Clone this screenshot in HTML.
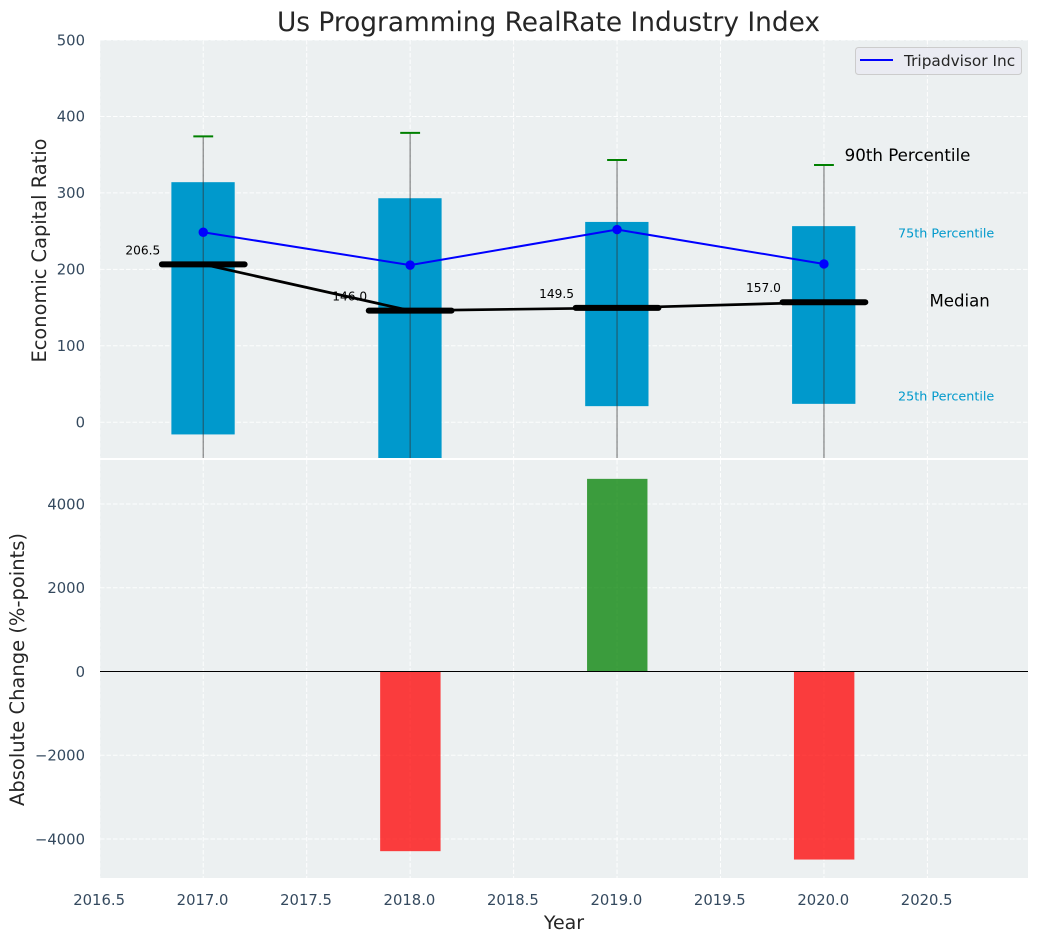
<!DOCTYPE html>
<html lang="en">
<head>
<meta charset="utf-8">
<title>Us Programming RealRate Industry Index</title>
<style>
html,body{margin:0;padding:0;background:#fff;width:1039px;height:942px;overflow:hidden}
svg{display:block}
text{font-family:"DejaVu Sans","Liberation Sans",sans-serif}
</style>
</head>
<body>
<svg id="chart" xmlns="http://www.w3.org/2000/svg" width="1039" height="942" viewBox="0 0 1039 942">
  <defs>
    <clipPath id="clip-top"><rect x="100" y="40" width="928" height="418"/></clipPath>
    <clipPath id="clip-bottom"><rect x="100" y="460" width="928" height="418"/></clipPath>
  </defs>
  <text x="548.5" y="31" text-anchor="middle" font-size="26.4" fill="#262626">Us Programming RealRate Industry Index</text>
  <rect x="100" y="40" width="928" height="418" fill="#ecf0f1"/>
  <rect x="100" y="460" width="928" height="418" fill="#ecf0f1"/>
  <g id="grid"></g>
  <g id="top-marks" clip-path="url(#clip-top)"></g>
  <g id="bottom-marks" clip-path="url(#clip-bottom)"></g>
  <g id="axes"></g>
  <text transform="translate(46,250.5) rotate(-90)" text-anchor="middle" font-size="19.4" fill="#262626">Economic Capital Ratio</text>
  <text transform="translate(24,669.5) rotate(-90)" text-anchor="middle" font-size="19.5" fill="#262626">Absolute Change (%-points)</text>
  <text x="564" y="929" text-anchor="middle" font-size="19" fill="#262626">Year</text>
  <g>
    <rect x="855.5" y="47.5" width="166" height="27" rx="3" fill="#eaeaf2" fill-opacity="0.9" stroke="#cccccc" stroke-width="1"/>
    <line x1="860" y1="60" x2="893" y2="60" stroke="#0000ff" stroke-width="2"/>
    <text x="904" y="66" font-size="15.35" fill="#262626">Tripadvisor Inc</text>
  </g>
</svg>
<script>
var years = [2017, 2018, 2019, 2020];
var p10 = [-120, -150, -90, -80];
var p25 = [-16, -70, 21, 24];
var medians = [206.5, 146.0, 149.5, 157.0];
var p75 = [314, 293, 262, 256.5];
var p90 = [374, 378.5, 343, 336.5];
var tripadvisor = [248.5, 205.5, 252, 207];
var changeYears = [2018, 2019, 2020];
var changes = [-4290, 4600, -4490];
var xTicks = [2016.5, 2017.0, 2017.5, 2018.0, 2018.5, 2019.0, 2019.5, 2020.0, 2020.5];
var topTicks = [0, 100, 200, 300, 400, 500];
var bottomTicks = [-4000, -2000, 0, 2000, 4000];

var NS = 'http://www.w3.org/2000/svg';
function xScale(v) { return 99.8 + (v - 2016.5) * 206.9; }
function yTop(v) { return 422.2 - v * 0.7644; }
function yBottom(v) { return 671.5 - v * 0.04188; }
function make(tag, attrs, parent, content) {
  var node = document.createElementNS(NS, tag);
  for (var k in attrs) { node.setAttribute(k, attrs[k]); }
  if (content !== undefined) { node.textContent = content; }
  parent.appendChild(node);
  return node;
}
var gridG = document.getElementById('grid');
var topG = document.getElementById('top-marks');
var botG = document.getElementById('bottom-marks');
var axesG = document.getElementById('axes');
var TICK = '#34495e';
var GRID = {stroke: '#ffffff', 'stroke-width': 1, 'stroke-dasharray': '4.5 2', 'stroke-opacity': 0.9};
var el, i;

function gridAttrs(x1, y1, x2, y2) {
  var a = {x1: x1, y1: y1, x2: x2, y2: y2};
  for (var k in GRID) { a[k] = GRID[k]; }
  return a;
}

xTicks.forEach(function (t) {
  var x = xScale(t);
  var el = make('line', gridAttrs(x, 40, x, 458), gridG);
  
  
  el = make('line', gridAttrs(x, 460, x, 878), gridG);
  
  
  el = make('text', {x: x - 0.7, y: 905, 'text-anchor': 'middle', 'font-size': 14.8, fill: TICK}, axesG, t.toFixed(1));
  
  
});

topTicks.forEach(function (t) {
  var y = yTop(t);
  var el = make('line', gridAttrs(100, y, 1028, y), gridG);
  
  
  el = make('text', {x: 85, y: y + 5.3, 'text-anchor': 'end', 'font-size': 14.8, fill: TICK}, axesG, String(t));
  
  
});

bottomTicks.forEach(function (t) {
  var y = yBottom(t);
  var el = make('line', gridAttrs(100, y, 1028, y), gridG);
  
  
  var label = t < 0 ? '\u2212' + Math.abs(t) : String(t);
  el = make('text', {x: 85, y: y + 5.3, 'text-anchor': 'end', 'font-size': 14.8, fill: TICK}, axesG, label);
  
  
});

// percentile boxes
years.forEach(function (yr, n) {
  var x0 = xScale(yr - 0.154), x1 = xScale(yr + 0.152);
  var y0 = yTop(p75[n]), y1 = yTop(p25[n]);
  var el = make('rect', {x: x0, y: y0, width: x1 - x0, height: y1 - y0, fill: '#0099cc'}, topG);
  
  
});

// whiskers and 90th percentile caps
years.forEach(function (yr, n) {
  var x = xScale(yr);
  var el = make('line', {x1: x, x2: x, y1: yTop(p10[n]), y2: yTop(p90[n]), stroke: '#333333', 'stroke-opacity': 0.55, 'stroke-width': 1.3}, topG);
  
  
  el = make('line', {x1: xScale(yr - 0.048), x2: xScale(yr + 0.048), y1: yTop(p90[n]), y2: yTop(p90[n]), stroke: '#008000', 'stroke-width': 2}, topG);
  
  
});

// median value labels
years.forEach(function (yr, n) {
  var el = make('text', {x: xScale(yr - 0.208), y: yTop(medians[n]) - 10, 'text-anchor': 'end', 'font-size': 12.2, fill: '#000000'}, topG, medians[n].toFixed(1));
  
  
});

// median connecting line
el = make('polyline', {fill: 'none', stroke: '#000000', 'stroke-width': 2.7, points: years.map(function (yr, n) { return xScale(yr) + ',' + yTop(medians[n]); }).join(' ')}, topG);



// thick median bars
years.forEach(function (yr, n) {
  var el = make('line', {x1: xScale(yr - 0.2), x2: xScale(yr + 0.2), y1: yTop(medians[n]), y2: yTop(medians[n]), stroke: '#000000', 'stroke-width': 6, 'stroke-linecap': 'round'}, topG);
  
  
});

// Tripadvisor series
el = make('polyline', {fill: 'none', stroke: '#0000ff', 'stroke-width': 2, points: years.map(function (yr, n) { return xScale(yr) + ',' + yTop(tripadvisor[n]); }).join(' ')}, topG);


years.forEach(function (yr, n) {
  var el = make('circle', {cx: xScale(yr), cy: yTop(tripadvisor[n]), r: 4.7, fill: '#0000ff'}, topG);
  
  
});

// percentile annotations beside the last box
i = years.length - 1;
el = make('text', {x: xScale(years[i] + 0.1), y: yTop(p90[i]) - 4, 'font-size': 16.67, fill: '#000000'}, topG, '90th Percentile');


el = make('text', {x: xScale(years[i] + 0.358), y: yTop(p75[i]) + 11.5, 'font-size': 12.75, fill: '#0099cc'}, topG, '75th Percentile');


el = make('text', {x: xScale(years[i] + 0.51), y: yTop(medians[i]) + 4.5, 'font-size': 16.6, fill: '#000000'}, topG, 'Median');


el = make('text', {x: xScale(years[i] + 0.358), y: yTop(p25[i]) - 3.2, 'font-size': 12.75, fill: '#0099cc'}, topG, '25th Percentile');



// change bars
changeYears.forEach(function (yr, n) {
  var x0 = xScale(yr - 0.145), x1 = xScale(yr + 0.147);
  var y0 = yBottom(Math.max(changes[n], 0)), y1 = yBottom(Math.min(changes[n], 0));
  var el = make('rect', {x: x0, y: y0, width: x1 - x0, height: y1 - y0, fill: changes[n] >= 0 ? '#008000' : '#ff0000', 'fill-opacity': 0.75}, botG);
  
  
});

el = make('line', {x1: 100, x2: 1028, y1: yBottom(0), y2: yBottom(0), stroke: '#000000', 'stroke-width': 1.1}, botG);


</script>
</body>
</html>
